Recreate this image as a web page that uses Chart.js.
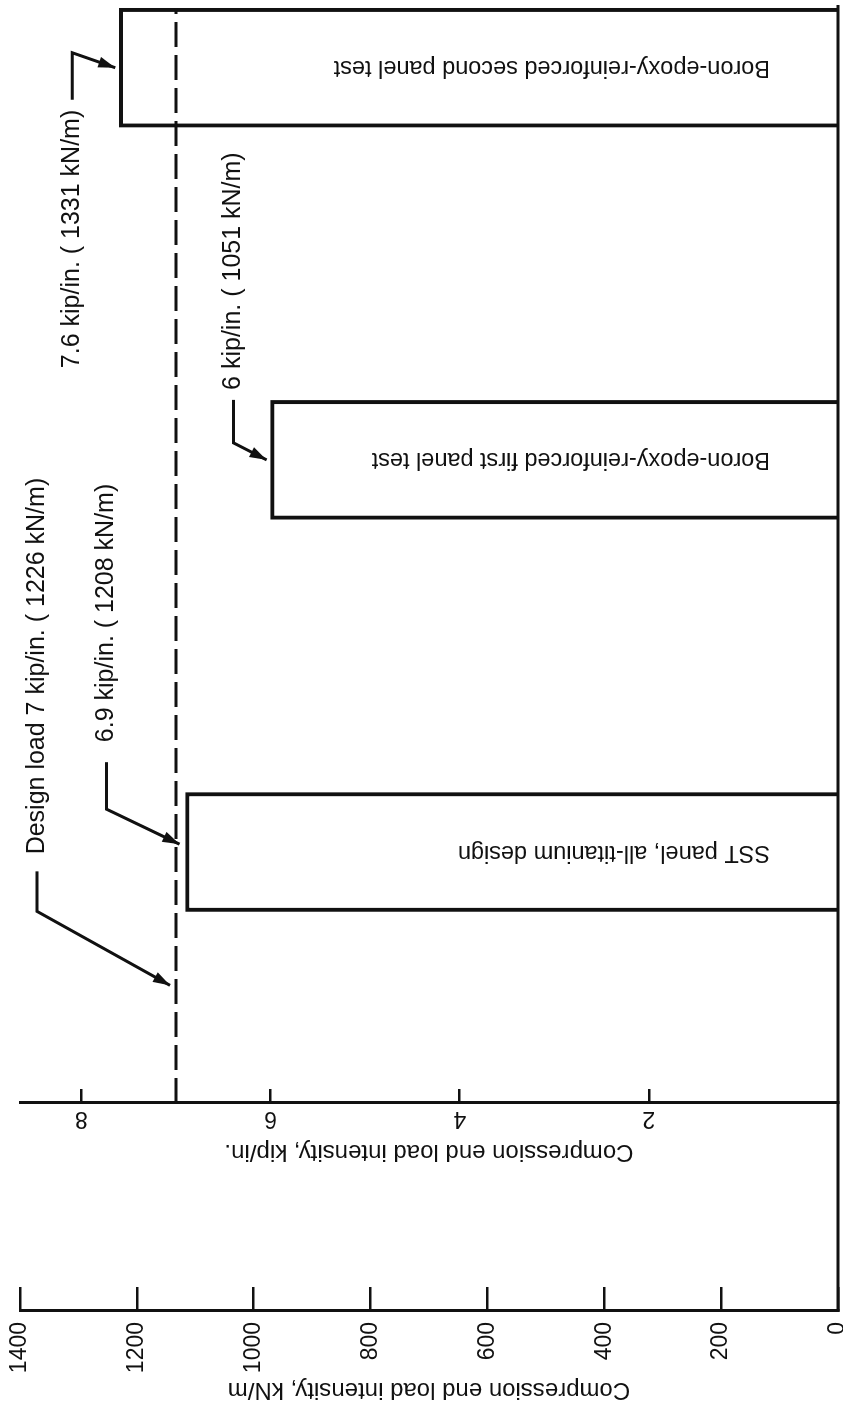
<!DOCTYPE html>
<html>
<head>
<meta charset="utf-8">
<title>Compression end load intensity</title>
<script src="https://cdn.jsdelivr.net/npm/chart.js@4.4.0/dist/chart.umd.min.js"></script>
<style>
  html, body { margin: 0; padding: 0; background: #fff; overflow: hidden; }
  body { width: 843px; height: 1410px; position: relative; }
  /* the figure is laid out landscape and turned a quarter turn onto the page */
  #fig { position: absolute; left: 0; top: 0; width: 1410px; height: 843px;
         transform-origin: 0 0; transform: translate(0, 1410px) rotate(-90deg); }
</style>
</head>
<body>
<div id="fig"><canvas id="chart" width="1410" height="843"></canvas></div>
<script>
'use strict';

// panels and their failure loads (kip/in.)
var PANELS = ['SST panel, all-titanium design', 'Boron-epoxy-reinforced first panel test', 'Boron-epoxy-reinforced second panel test'];
var FAILURE_KIP = [6.9, 6, 7.6];
var DESIGN_KIP = 7;

var KN_TICKS = [0, 200, 400, 600, 800, 1000, 1200, 1400];
var KIP_TICKS = [2, 4, 6, 8];

// callouts: text, value pointed at, position along the panel axis
var NOTE_TEXT = ['Design load 7 kip/in. ( 1226 kN/m)', '6.9 kip/in. ( 1208 kN/m)', '6 kip/in. ( 1051 kN/m)', '7.6 kip/in. ( 1331 kN/m)'];
var NOTE_KIP = [DESIGN_KIP].concat(FAILURE_KIP);
var NOTE_AT = [-0.34, 0.02, 1, 2];

// leader geometry, px offsets from the arrow tip
var LEADERS = [
  { gap: 6, dy: -133, elbow: 74, start: 114, text: 131, align: 'left' },
  { gap: 6, dy: -73, elbow: 35, start: 82, text: 102, align: 'left' },
  { gap: 4, dy: -33, elbow: 17, start: 60, text: 70, align: 'left' },
  { gap: 4, dy: -43, elbow: 15, start: -32, text: -42, align: 'right' }
];

var INK = '#111';
var FONT = '"Liberation Sans", Arial, Helvetica, sans-serif';
Chart.defaults.font.family = FONT;
Chart.defaults.color = INK;

function seg(ctx, pts) {
  ctx.beginPath();
  ctx.moveTo(pts[0][0], pts[0][1]);
  for (var i = 1; i < pts.length; i++) ctx.lineTo(pts[i][0], pts[i][1]);
  ctx.stroke();
}

function arrowHead(ctx, fx, fy, tx, ty) {
  var a = Math.atan2(ty - fy, tx - fx), L = 17, W = 5.5;
  var c = Math.cos(a), s = Math.sin(a);
  ctx.beginPath();
  ctx.moveTo(tx, ty);
  ctx.lineTo(tx - L * c + W * s, ty - L * s - W * c);
  ctx.lineTo(tx - L * c - W * s, ty - L * s + W * c);
  ctx.closePath();
  ctx.fill();
}

// baseline, design-load line, bar captions and callouts
var extras = {
  id: 'extras',
  afterDatasetsDraw: function (chart) {
    var ctx = chart.ctx, area = chart.chartArea;
    var x = chart.scales.x, kip = chart.scales.kip, kn = chart.scales.kn;
    var y0 = kip.getPixelForValue(0);
    ctx.save();
    ctx.strokeStyle = INK;
    ctx.fillStyle = INK;

    ctx.lineWidth = 3;
    seg(ctx, [[kn.right, y0], [area.right, y0]]);

    var yd = kip.getPixelForValue(DESIGN_KIP);
    ctx.lineWidth = 3;
    ctx.setLineDash([25, 8]);
    seg(ctx, [[area.left, yd], [area.right - 3, yd]]);
    ctx.setLineDash([]);

    ctx.font = '23.5px ' + FONT;
    ctx.textBaseline = 'middle';
    ctx.textAlign = 'left';
    chart.getDatasetMeta(0).data.forEach(function (bar, i) {
      ctx.save();
      ctx.translate(bar.x, y0 - 68);
      ctx.rotate(-Math.PI / 2);
      ctx.fillText(PANELS[i], 0, 0);
      ctx.restore();
    });

    ctx.font = '25px ' + FONT;
    ctx.lineWidth = 3;
    NOTE_TEXT.forEach(function (txt, i) {
      var L = LEADERS[i];
      var tx = x.getPixelForValue(NOTE_AT[i]);
      var ty = kip.getPixelForValue(NOTE_KIP[i]) - L.gap;
      var ly = ty + L.dy, ex = tx + L.elbow;
      seg(ctx, [[tx + L.start, ly], [ex, ly], [tx, ty]]);
      arrowHead(ctx, ex, ly, tx, ty);
      ctx.textAlign = L.align;
      ctx.fillText(txt, tx + L.text, ly);
    });
    ctx.restore();
  }
};

new Chart(document.getElementById('chart'), {
  type: 'bar',
  data: {
    datasets: [{
      data: FAILURE_KIP.map(function (v, i) { return { x: i, y: v }; }),
      xAxisID: 'x', yAxisID: 'kip',
      backgroundColor: '#fff', borderColor: INK, borderWidth: 4, borderSkipped: 'start',
      barThickness: 119
    }]
  },
  options: {
    responsive: false, animation: false, devicePixelRatio: 1,
    layout: { padding: { top: 20, right: 5, bottom: 5, left: 0 } },
    plugins: { legend: { display: false }, tooltip: { enabled: false } },
    scales: {
      x: { type: 'linear', display: false, offset: false, grid: { offset: false }, min: -0.64, max: 2.16 },
      kn: {
        type: 'linear', position: 'left', weight: 1, min: 0, max: 1400,
        afterBuildTicks: function (s) { s.ticks = KN_TICKS.map(function (v) { return { value: v }; }); },
        afterFit: function (s) { s.width = 99; s.paddingTop = 0; s.paddingBottom = 0; },
        ticks: { font: { size: 23 }, padding: 35, callback: function (v) { return String(v); } },
        grid: { drawOnChartArea: false, tickLength: -24, lineWidth: 2.5, color: INK },
        border: { display: true, width: 3, color: INK },
        title: { display: true, text: 'Compression end load intensity, kN/m', font: { size: 24 }, padding: { top: 6, bottom: 0 } }
      },
      kip: {
        type: 'linear', position: 'left', weight: 0, min: 0, max: 8.65,
        afterBuildTicks: function (s) { s.ticks = KIP_TICKS.map(function (v) { return { value: v }; }); },
        afterFit: function (s) { s.width = 208; s.paddingTop = 0; s.paddingBottom = 0; },
        ticks: { font: { size: 23 }, padding: 23, minRotation: 90, maxRotation: 90, crossAlign: 'center' },
        grid: { drawOnChartArea: false, tickLength: -14, lineWidth: 2.5, color: INK },
        border: { display: true, width: 3, color: INK },
        title: { display: true, text: 'Compression end load intensity, kip/in.', font: { size: 24 }, padding: { top: 145, bottom: 0 } }
      }
    }
  },
  plugins: [extras]
});
</script>
</body>
</html>
